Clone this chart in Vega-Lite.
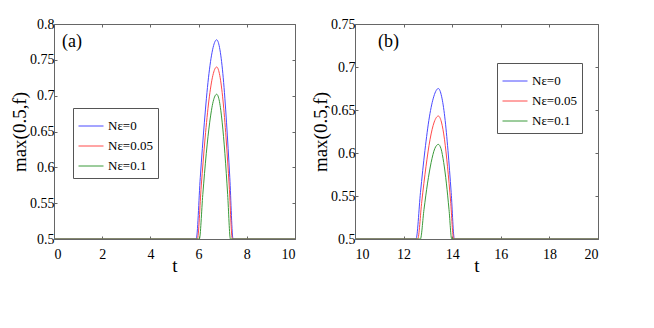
{
  "$schema": "https://vega.github.io/schema/vega-lite/v6.json",
  "background": "white",
  "padding": {"left": 10, "top": 16, "right": 5, "bottom": 5},
  "spacing": 15,
  "datasets": {
    "curves": [
      {"panel": "a", "series": "Nε=0", "t": 0, "v": 0.5},
      {"panel": "a", "series": "Nε=0", "t": 5.9, "v": 0.5},
      {"panel": "a", "series": "Nε=0", "t": 6.07, "v": 0.586},
      {"panel": "a", "series": "Nε=0", "t": 6.24, "v": 0.663},
      {"panel": "a", "series": "Nε=0", "t": 6.41, "v": 0.725},
      {"panel": "a", "series": "Nε=0", "t": 6.58, "v": 0.764},
      {"panel": "a", "series": "Nε=0", "t": 6.75, "v": 0.778},
      {"panel": "a", "series": "Nε=0", "t": 6.886, "v": 0.764},
      {"panel": "a", "series": "Nε=0", "t": 7.022, "v": 0.725},
      {"panel": "a", "series": "Nε=0", "t": 7.158, "v": 0.663},
      {"panel": "a", "series": "Nε=0", "t": 7.294, "v": 0.586},
      {"panel": "a", "series": "Nε=0", "t": 7.43, "v": 0.5},
      {"panel": "a", "series": "Nε=0", "t": 10, "v": 0.5},
      {"panel": "a", "series": "Nε=0.05", "t": 0, "v": 0.5},
      {"panel": "a", "series": "Nε=0.05", "t": 5.95, "v": 0.5},
      {"panel": "a", "series": "Nε=0.05", "t": 6.11, "v": 0.574},
      {"panel": "a", "series": "Nε=0.05", "t": 6.27, "v": 0.641},
      {"panel": "a", "series": "Nε=0.05", "t": 6.43, "v": 0.694},
      {"panel": "a", "series": "Nε=0.05", "t": 6.59, "v": 0.728},
      {"panel": "a", "series": "Nε=0.05", "t": 6.75, "v": 0.74},
      {"panel": "a", "series": "Nε=0.05", "t": 6.88, "v": 0.728},
      {"panel": "a", "series": "Nε=0.05", "t": 7.01, "v": 0.694},
      {"panel": "a", "series": "Nε=0.05", "t": 7.14, "v": 0.641},
      {"panel": "a", "series": "Nε=0.05", "t": 7.27, "v": 0.574},
      {"panel": "a", "series": "Nε=0.05", "t": 7.4, "v": 0.5},
      {"panel": "a", "series": "Nε=0.05", "t": 10, "v": 0.5},
      {"panel": "a", "series": "Nε=0.1", "t": 0, "v": 0.5},
      {"panel": "a", "series": "Nε=0.1", "t": 6.03, "v": 0.5},
      {"panel": "a", "series": "Nε=0.1", "t": 6.174, "v": 0.562},
      {"panel": "a", "series": "Nε=0.1", "t": 6.318, "v": 0.619},
      {"panel": "a", "series": "Nε=0.1", "t": 6.462, "v": 0.663},
      {"panel": "a", "series": "Nε=0.1", "t": 6.606, "v": 0.692},
      {"panel": "a", "series": "Nε=0.1", "t": 6.75, "v": 0.702},
      {"panel": "a", "series": "Nε=0.1", "t": 6.864, "v": 0.692},
      {"panel": "a", "series": "Nε=0.1", "t": 6.978, "v": 0.663},
      {"panel": "a", "series": "Nε=0.1", "t": 7.092, "v": 0.619},
      {"panel": "a", "series": "Nε=0.1", "t": 7.206, "v": 0.562},
      {"panel": "a", "series": "Nε=0.1", "t": 7.32, "v": 0.5},
      {"panel": "a", "series": "Nε=0.1", "t": 10, "v": 0.5},
      {"panel": "b", "series": "Nε=0", "t": 10, "v": 0.5},
      {"panel": "b", "series": "Nε=0", "t": 12.51, "v": 0.5},
      {"panel": "b", "series": "Nε=0", "t": 12.694, "v": 0.554},
      {"panel": "b", "series": "Nε=0", "t": 12.878, "v": 0.603},
      {"panel": "b", "series": "Nε=0", "t": 13.062, "v": 0.642},
      {"panel": "b", "series": "Nε=0", "t": 13.246, "v": 0.666},
      {"panel": "b", "series": "Nε=0", "t": 13.43, "v": 0.675},
      {"panel": "b", "series": "Nε=0", "t": 13.562, "v": 0.666},
      {"panel": "b", "series": "Nε=0", "t": 13.694, "v": 0.642},
      {"panel": "b", "series": "Nε=0", "t": 13.826, "v": 0.603},
      {"panel": "b", "series": "Nε=0", "t": 13.958, "v": 0.554},
      {"panel": "b", "series": "Nε=0", "t": 14.09, "v": 0.5},
      {"panel": "b", "series": "Nε=0", "t": 20, "v": 0.5},
      {"panel": "b", "series": "Nε=0.05", "t": 10, "v": 0.5},
      {"panel": "b", "series": "Nε=0.05", "t": 12.58, "v": 0.5},
      {"panel": "b", "series": "Nε=0.05", "t": 12.75, "v": 0.544},
      {"panel": "b", "series": "Nε=0.05", "t": 12.92, "v": 0.584},
      {"panel": "b", "series": "Nε=0.05", "t": 13.09, "v": 0.616},
      {"panel": "b", "series": "Nε=0.05", "t": 13.26, "v": 0.636},
      {"panel": "b", "series": "Nε=0.05", "t": 13.43, "v": 0.643},
      {"panel": "b", "series": "Nε=0.05", "t": 13.556, "v": 0.636},
      {"panel": "b", "series": "Nε=0.05", "t": 13.682, "v": 0.616},
      {"panel": "b", "series": "Nε=0.05", "t": 13.808, "v": 0.584},
      {"panel": "b", "series": "Nε=0.05", "t": 13.934, "v": 0.544},
      {"panel": "b", "series": "Nε=0.05", "t": 14.06, "v": 0.5},
      {"panel": "b", "series": "Nε=0.05", "t": 20, "v": 0.5},
      {"panel": "b", "series": "Nε=0.1", "t": 10, "v": 0.5},
      {"panel": "b", "series": "Nε=0.1", "t": 12.69, "v": 0.5},
      {"panel": "b", "series": "Nε=0.1", "t": 12.838, "v": 0.534},
      {"panel": "b", "series": "Nε=0.1", "t": 12.986, "v": 0.565},
      {"panel": "b", "series": "Nε=0.1", "t": 13.134, "v": 0.589},
      {"panel": "b", "series": "Nε=0.1", "t": 13.282, "v": 0.605},
      {"panel": "b", "series": "Nε=0.1", "t": 13.43, "v": 0.61},
      {"panel": "b", "series": "Nε=0.1", "t": 13.54, "v": 0.605},
      {"panel": "b", "series": "Nε=0.1", "t": 13.65, "v": 0.589},
      {"panel": "b", "series": "Nε=0.1", "t": 13.76, "v": 0.565},
      {"panel": "b", "series": "Nε=0.1", "t": 13.87, "v": 0.534},
      {"panel": "b", "series": "Nε=0.1", "t": 13.98, "v": 0.5},
      {"panel": "b", "series": "Nε=0.1", "t": 20, "v": 0.5}
    ],
    "labels": [
      {"panel": "a", "t": 0.33, "v": 0.775, "label": "(a)"},
      {"panel": "b", "t": 10.95, "v": 0.729, "label": "(b)"}
    ]
  },
  "hconcat": [
    {
      "width": 241,
      "height": 215,
      "layer": [
        {
          "data": {"name": "curves"},
          "transform": [{"filter": "datum.panel === 'a'"}],
          "mark": {"type": "line", "strokeWidth": 1, "interpolate": "monotone", "clip": true},
          "encoding": {
            "x": {"field": "t", "type": "quantitative", "scale": {"domain": [0, 10], "nice": false}, "axis": {"title": "t", "values": [0, 2, 4, 6, 8, 10]}},
            "y": {"field": "v", "type": "quantitative", "scale": {"domain": [0.5, 0.8], "nice": false, "zero": false}, "axis": {"title": "max(0.5,f)", "values": [0.5, 0.55, 0.6, 0.65, 0.7, 0.75, 0.8], "format": "~g"}},
            "color": {"field": "series", "type": "nominal", "scale": {"domain": ["Nε=0", "Nε=0.05", "Nε=0.1"], "range": ["#4a4aff", "#ff4a4a", "#3a9a3a"]}, "legend": {"orient": "none", "legendX": 19, "legendY": 84}}
          }
        },
        {
          "data": {"name": "labels"},
          "transform": [{"filter": "datum.panel === 'a'"}],
          "mark": {"type": "text", "align": "left", "baseline": "middle", "font": "Liberation Serif", "fontSize": 18},
          "encoding": {
            "x": {"field": "t", "type": "quantitative", "axis": {"orient": "top", "title": null, "labels": false, "values": [0, 2, 4, 6, 8, 10]}},
            "y": {"field": "v", "type": "quantitative", "axis": {"orient": "right", "title": null, "labels": false, "values": [0.5, 0.55, 0.6, 0.65, 0.7, 0.75, 0.8]}},
            "text": {"field": "label"}
          }
        }
      ],
      "resolve": {"axis": {"x": "independent", "y": "independent"}}
    },
    {
      "width": 243,
      "height": 215,
      "layer": [
        {
          "data": {"name": "curves"},
          "transform": [{"filter": "datum.panel === 'b'"}],
          "mark": {"type": "line", "strokeWidth": 1, "interpolate": "monotone", "clip": true},
          "encoding": {
            "x": {"field": "t", "type": "quantitative", "scale": {"domain": [10, 20], "nice": false, "zero": false}, "axis": {"title": "t", "values": [10, 12, 14, 16, 18, 20]}},
            "y": {"field": "v", "type": "quantitative", "scale": {"domain": [0.5, 0.75], "nice": false, "zero": false}, "axis": {"title": "max(0.5,f)", "values": [0.5, 0.55, 0.6, 0.65, 0.7, 0.75], "format": "~g"}},
            "color": {"field": "series", "type": "nominal", "scale": {"domain": ["Nε=0", "Nε=0.05", "Nε=0.1"], "range": ["#4a4aff", "#ff4a4a", "#3a9a3a"]}, "legend": {"orient": "none", "legendX": 142, "legendY": 39}}
          }
        },
        {
          "data": {"name": "labels"},
          "transform": [{"filter": "datum.panel === 'b'"}],
          "mark": {"type": "text", "align": "left", "baseline": "middle", "font": "Liberation Serif", "fontSize": 18},
          "encoding": {
            "x": {"field": "t", "type": "quantitative", "axis": {"orient": "top", "title": null, "labels": false, "values": [10, 12, 14, 16, 18, 20]}},
            "y": {"field": "v", "type": "quantitative", "axis": {"orient": "right", "title": null, "labels": false, "values": [0.5, 0.55, 0.6, 0.65, 0.7, 0.75]}},
            "text": {"field": "label"}
          }
        }
      ],
      "resolve": {"axis": {"x": "independent", "y": "independent"}}
    }
  ],
  "resolve": {"scale": {"x": "independent", "y": "independent", "color": "independent"}, "legend": {"color": "independent"}},
  "config": {
    "view": {"stroke": "#666", "strokeWidth": 1},
    "axis": {
      "grid": false,
      "domain": false,
      "labelFont": "Liberation Serif",
      "titleFont": "Liberation Serif",
      "labelFontSize": 14,
      "titleFontSize": 19,
      "titleFontWeight": "normal",
      "labelColor": "black",
      "titleColor": "black",
      "tickColor": "#666",
      "tickSize": -3,
      "labelOverlap": false
    },
    "axisY": {"titlePadding": 0, "labelPadding": 3},
    "axisX": {"titlePadding": -5, "labelPadding": 11},
    "legend": {
      "title": null,
      "strokeColor": "#555",
      "fillColor": "white",
      "padding": 5,
      "symbolType": "stroke",
      "symbolStrokeWidth": 1,
      "symbolSize": 625,
      "labelFont": "Liberation Serif",
      "labelFontSize": 13,
      "labelColor": "black",
      "labelOffset": 4,
      "rowPadding": -5,
      "cornerRadius": 0
    }
  }
}
